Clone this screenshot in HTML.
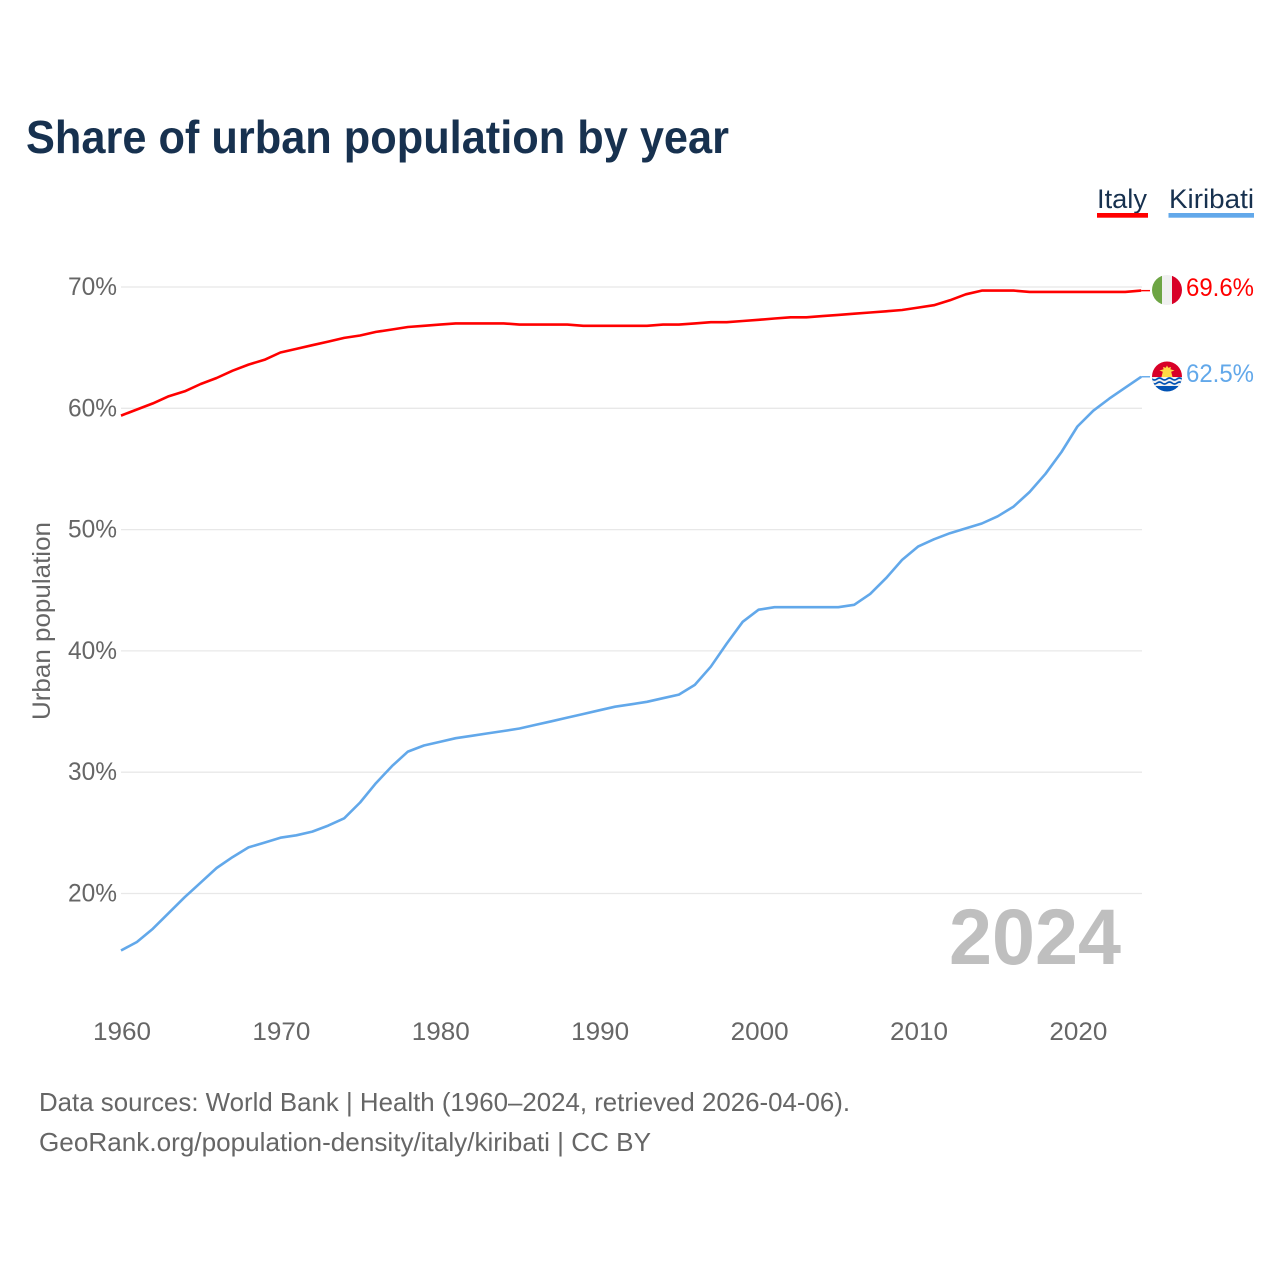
<!DOCTYPE html>
<html lang="en">
<head>
<meta charset="utf-8">
<title>Share of urban population by year</title>
<style>
html,body{margin:0;padding:0;background:#fff;width:1280px;height:1280px;overflow:hidden}
svg{display:block;font-family:"Liberation Sans",sans-serif}
</style>
</head>
<body>
<svg id="chart" xmlns="http://www.w3.org/2000/svg" width="1280" height="1280" viewBox="0 0 1280 1280">
  <defs>
    <clipPath id="clip-it"><circle cx="1167" cy="290" r="15"/></clipPath>
    <clipPath id="clip-ki"><circle cx="1167" cy="376.5" r="15"/></clipPath>
  </defs>
  <rect width="1280" height="1280" fill="#fff"/>
  <text x="26" y="153" font-size="46" font-weight="700" fill="#17314f" textLength="703" lengthAdjust="spacingAndGlyphs">Share of urban population by year</text>

  <g>
    <g>
      <text x="1097" y="208" font-size="27" fill="#17314f" textLength="50" lengthAdjust="spacingAndGlyphs">Italy</text>
      <rect x="1097" y="213" width="51" height="4.700" fill="#ff0000"/>
    </g>
    <g>
      <text x="1169" y="208" font-size="27" fill="#17314f" textLength="85" lengthAdjust="spacingAndGlyphs">Kiribati</text>
      <rect x="1168.500" y="213" width="85.500" height="4.700" fill="#62a8ea"/>
    </g>
  </g>

  <g id="grid"></g>
  <g id="yticks"></g>
  <g id="xticks"></g>
  <text transform="translate(50,621) rotate(-90)" text-anchor="middle" font-size="25" fill="#666" textLength="198" lengthAdjust="spacingAndGlyphs">Urban population</text>

  <text x="949" y="964" font-size="79" font-weight="700" fill="#bfbfbf" textLength="172" lengthAdjust="spacingAndGlyphs">2024</text>

  <g id="series"></g>

  <g clip-path="url(#clip-it)">
    <rect x="1152" y="275" width="10" height="30" fill="#6da544"/>
    <rect x="1162" y="275" width="10" height="30" fill="#f0f0f0"/>
    <rect x="1172" y="275" width="10" height="30" fill="#d80027"/>
  </g>
  <g clip-path="url(#clip-ki)">
    <rect x="1152" y="361" width="30" height="17" fill="#d80027"/>
    <rect x="1152" y="377" width="30" height="16" fill="#0052b4"/>
    <rect x="1152" y="377" width="30" height="9" fill="#f0f0f0"/>
    <path d="M1167 365.500l1.200 2.300 2.800-.8-.6 2.300 4.100 1.200-3.300 1.300 1.300 5.200h-11l1.300-5.200-3.300-1.300 4.100-1.200-.6-2.300 2.800.8z" fill="#ffda44"/>
    <path d="M1152 379q2.500 2 5 0t5 0 5 0 5 0 5 0 5 0M1152 383q2.500 2 5 0t5 0 5 0 5 0 5 0 5 0" fill="none" stroke="#0052b4" stroke-width="1.700"/>
  </g>
  <text id="label-it" x="1186" y="296" font-size="25" fill="#ff0000" textLength="68" lengthAdjust="spacingAndGlyphs">69.6%</text>
  <text id="label-ki" x="1186" y="382" font-size="25" fill="#62a8ea" textLength="68" lengthAdjust="spacingAndGlyphs">62.5%</text>

  <text x="39" y="1111" font-size="26" fill="#666" textLength="811" lengthAdjust="spacingAndGlyphs">Data sources: World Bank | Health (1960–2024, retrieved 2026-04-06).</text>
  <text x="39" y="1151" font-size="26" fill="#666" textLength="612" lengthAdjust="spacingAndGlyphs">GeoRank.org/population-density/italy/kiribati | CC BY</text>
</svg>
<script>
const startYear = 1960;
const yTickValues = [20, 30, 40, 50, 60, 70];
const xTickValues = [1960, 1970, 1980, 1990, 2000, 2010, 2020];
const italyValues = [59.4,59.9,60.4,61.0,61.4,62.0,62.5,63.1,63.6,64.0,64.6,64.9,65.2,65.5,65.8,66.0,66.3,66.5,66.7,66.8,66.9,67.0,67.0,67.0,67.0,66.9,66.9,66.9,66.9,66.8,66.8,66.8,66.8,66.8,66.9,66.9,67.0,67.1,67.1,67.2,67.3,67.4,67.5,67.5,67.6,67.7,67.8,67.9,68.0,68.1,68.3,68.5,68.9,69.4,69.7,69.7,69.7,69.6,69.6,69.6,69.6,69.6,69.6,69.6,69.7];
const kiribatiValues = [15.3,16.0,17.1,18.4,19.7,20.9,22.1,23.0,23.8,24.2,24.6,24.8,25.1,25.6,26.2,27.5,29.1,30.5,31.7,32.2,32.5,32.8,33.0,33.2,33.4,33.6,33.9,34.2,34.5,34.8,35.1,35.4,35.6,35.8,36.1,36.4,37.2,38.7,40.6,42.4,43.4,43.6,43.6,43.6,43.6,43.6,43.8,44.7,46.0,47.5,48.6,49.2,49.7,50.1,50.5,51.1,51.9,53.1,54.6,56.4,58.5,59.8,60.8,61.7,62.6];

const NS = 'http://www.w3.org/2000/svg';
const xScale = function (year) { return 121 + (year - 1960) * 15.94; };
const yScale = function (v) { return 893.5 - (v - 20) * 12.13; };

function make(tag, parent, attrs, text) {
  const el = document.createElementNS(NS, tag);
  Object.keys(attrs).forEach(function (k) { el.setAttribute(k, attrs[k]); });
  if (text !== undefined) el.textContent = text;
  parent.appendChild(el);
  return el;
}

const gridGroup = document.getElementById('grid');
const yGroup = document.getElementById('yticks');
const xGroup = document.getElementById('xticks');
const seriesGroup = document.getElementById('series');

yTickValues.forEach(function (v) {
  const line = make('line', gridGroup, {x1: 121, x2: 1142, y1: yScale(v), y2: yScale(v), stroke: '#e8e8e8', 'stroke-width': 1.3});
  
  
  const label = make('text', yGroup, {x: 117, y: yScale(v) + 8, 'text-anchor': 'end', 'font-size': 25, fill: '#666', textLength: 49, lengthAdjust: 'spacingAndGlyphs'}, v + '%');
  
  
});

xTickValues.forEach(function (y) {
  const label = make('text', xGroup, {x: xScale(y) + 1, y: 1040, 'text-anchor': 'middle', 'font-size': 25, fill: '#666', textLength: 58, lengthAdjust: 'spacingAndGlyphs'}, String(y));
  
  
});

function drawSeries(values, colour) {
  const pts = values.map(function (v, i) {
    return xScale(startYear + i).toFixed(1) + ',' + yScale(v).toFixed(1);
  });
  const lastY = yScale(values[values.length - 1]);
  const lastX = xScale(startYear + values.length - 1);
  const leader = make('line', seriesGroup, {x1: lastX, x2: 1150, y1: lastY, y2: lastY, stroke: colour, 'stroke-width': 1.4});
  
  
  const path = make('polyline', seriesGroup, {points: pts.join(' '), fill: 'none', stroke: colour, 'stroke-width': 2.6, 'stroke-linejoin': 'round'});
  
  
}
drawSeries(kiribatiValues, '#62a8ea');
drawSeries(italyValues, '#ff0000');
</script>
</body>
</html>
